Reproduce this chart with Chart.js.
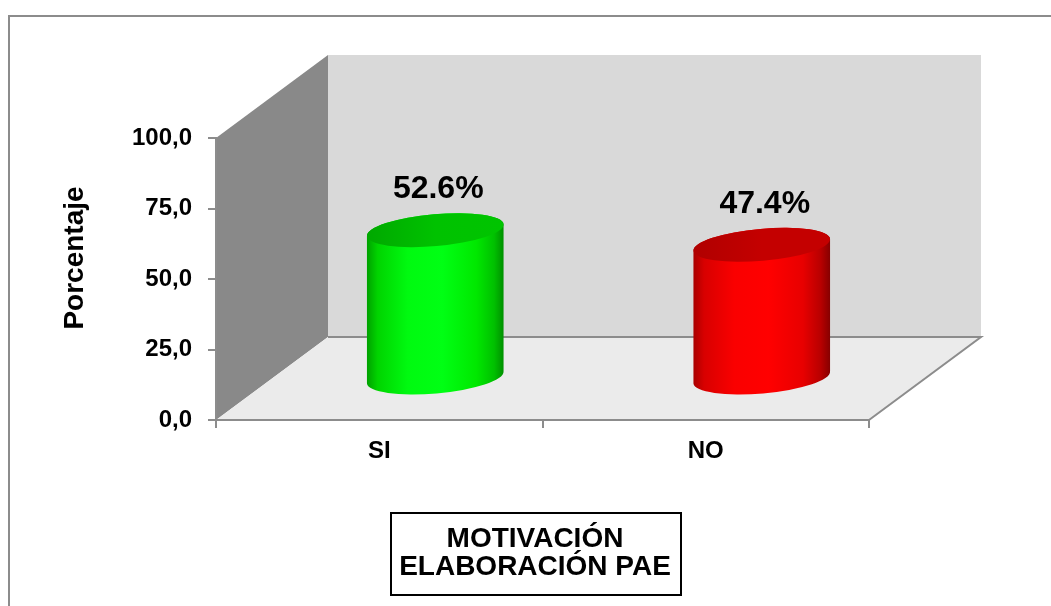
<!DOCTYPE html>
<html><head><meta charset="utf-8">
<script src="https://cdn.jsdelivr.net/npm/chart.js@4/dist/chart.umd.min.js"></script>
<style>html,body{margin:0;padding:0;background:#fff}canvas{display:block}</style>
</head><body>
<canvas id="c" width="1051" height="606"></canvas>
<script>
// ---- data ----
const categories = ['SI', 'NO'];
const percentages = [52.6, 47.4];
const yTickValues = [0, 25, 50, 75, 100];
const yTickLabels = ['0,0', '25,0', '50,0', '75,0', '100,0'];
const yAxisTitle = 'Porcentaje';
const chartTitleLines = ['MOTIVACIÓN', 'ELABORACIÓN PAE'];

// ---- styles ----
const FONT = '"Liberation Sans", Arial, sans-serif';
const GRAY = '#8c8c8c';
const DEPTH_X = 112, DEPTH_Y = 83;
const barStyles = [
  { body: [[0,'#00a000'],[0.08,'#00d400'],[0.3,'#00fa10'],[0.55,'#00ff14'],[0.8,'#00e800'],[0.93,'#00c000'],[1,'#008f00']],
    cap: [[0,'#00a800'],[0.5,'#00c200'],[1,'#00c400']] },
  { body: [[0,'#a80000'],[0.08,'#d80000'],[0.3,'#fa0000'],[0.55,'#ff0000'],[0.8,'#e80000'],[0.93,'#b80000'],[1,'#850000']],
    cap: [[0,'#b00000'],[0.5,'#c40000'],[1,'#c40000']] }
];

const scenePlugin = {
  id: 'scene',
  beforeDraw(chart) {
    const { ctx, chartArea: a } = chart;
    ctx.save();
    ctx.strokeStyle = GRAY; ctx.lineWidth = 2;
    ctx.beginPath(); ctx.moveTo(9, 606); ctx.lineTo(9, 16); ctx.lineTo(1051, 16); ctx.stroke();
    ctx.fillStyle = '#d9d9d9';
    ctx.fillRect(a.left + DEPTH_X, a.top - DEPTH_Y, a.right - a.left, a.bottom - a.top);
    ctx.fillStyle = '#898989';
    ctx.beginPath();
    ctx.moveTo(a.left, a.top); ctx.lineTo(a.left + DEPTH_X, a.top - DEPTH_Y);
    ctx.lineTo(a.left + DEPTH_X, a.bottom - DEPTH_Y); ctx.lineTo(a.left, a.bottom);
    ctx.closePath(); ctx.fill();
    ctx.fillStyle = '#ebebeb';
    ctx.beginPath();
    ctx.moveTo(a.left, a.bottom); ctx.lineTo(a.left + DEPTH_X, a.bottom - DEPTH_Y);
    ctx.lineTo(a.right + DEPTH_X, a.bottom - DEPTH_Y); ctx.lineTo(a.right, a.bottom);
    ctx.closePath(); ctx.fill();
    ctx.strokeStyle = GRAY; ctx.lineWidth = 2;
    ctx.beginPath();
    ctx.moveTo(a.left + DEPTH_X, a.bottom - DEPTH_Y); ctx.lineTo(a.right + DEPTH_X, a.bottom - DEPTH_Y);
    ctx.lineTo(a.right, a.bottom);
    ctx.stroke();
    ctx.restore();
  },
  afterDatasetsDraw(chart) {
    const { ctx } = chart;
    const meta = chart.getDatasetMeta(0);
    ctx.save();
    meta.data.forEach((bar, i) => {
      const p = bar.getProps(['x', 'y', 'base', 'width'], true);
      const cx = p.x + DEPTH_X / 2;
      const topY = p.y - DEPTH_Y / 2;
      const botY = p.base - DEPTH_Y / 2;
      const rx = p.width / 2, ry = 16, rot = -5 * Math.PI / 180;
      const st = barStyles[i % barStyles.length];
      const g = ctx.createLinearGradient(cx - rx, 0, cx + rx, 0);
      st.body.forEach(([o, c]) => g.addColorStop(o, c));
      ctx.beginPath();
      ctx.ellipse(cx, botY, rx, ry, rot, Math.PI, 0, true);
      ctx.ellipse(cx, topY, rx, ry, rot, 0, Math.PI, true);
      ctx.closePath();
      ctx.fillStyle = g; ctx.fill();
      const gc = ctx.createLinearGradient(cx - rx, 0, cx + rx, 0);
      st.cap.forEach(([o, c]) => gc.addColorStop(o, c));
      ctx.beginPath();
      ctx.ellipse(cx, topY, rx, ry, rot, 0, Math.PI * 2);
      ctx.fillStyle = gc; ctx.fill();
      ctx.fillStyle = '#000';
      ctx.font = 'bold 32px ' + FONT;
      ctx.textAlign = 'center'; ctx.textBaseline = 'middle';
      const v = chart.data.datasets[0].data[i];
      ctx.fillText(v.toFixed(1) + '%', cx + 3, topY - 41);
    });
    ctx.restore();
  },
  afterDraw(chart) {
    const { ctx } = chart;
    ctx.save();
    ctx.fillStyle = '#000';
    ctx.font = 'bold 28px ' + FONT;
    ctx.textAlign = 'center'; ctx.textBaseline = 'middle';
    ctx.translate(75, 258); ctx.rotate(-Math.PI / 2);
    ctx.fillText(yAxisTitle, 0, 0);
    ctx.setTransform(1, 0, 0, 1, 0, 0);
    ctx.strokeStyle = '#000'; ctx.lineWidth = 2;
    ctx.strokeRect(391, 513, 290, 82);
    ctx.font = 'bold 28px ' + FONT;
    ctx.textBaseline = 'alphabetic';
    ctx.fillText(chartTitleLines[0], 535, 547);
    ctx.fillText(chartTitleLines[1], 535, 575);
    ctx.restore();
  }
};

new Chart(document.getElementById('c'), {
  type: 'bar',
  data: {
    labels: categories,
    datasets: [{
      data: percentages,
      backgroundColor: 'rgba(0,0,0,0)',
      borderWidth: 0,
      barPercentage: 0.42,
      categoryPercentage: 1
    }]
  },
  options: {
    responsive: false,
    animation: false,
    devicePixelRatio: 1,
    layout: { padding: { top: 138, left: 60, right: 182, bottom: 126 } },
    plugins: { legend: { display: false }, tooltip: { enabled: false }, title: { display: false } },
    scales: {
      x: {
        type: 'category',
        offset: true,
        grid: { display: true, offset: true, drawOnChartArea: false, drawTicks: true, tickLength: 8, color: GRAY, lineWidth: 2 },
        border: { display: true, color: GRAY, width: 2 },
        ticks: { color: '#000', font: { family: FONT, size: 24, weight: 'bold' }, padding: 9, maxRotation: 0 },
        afterFit(s) { s.height = 60; }
      },
      y: {
        min: 0, max: 100,
        afterBuildTicks(s) { s.ticks = yTickValues.map(v => ({ value: v })); },
        grid: { display: true, drawOnChartArea: false, drawTicks: true, tickLength: 8, color: GRAY, lineWidth: 2 },
        border: { display: true, color: GRAY, width: 2 },
        ticks: {
          color: '#000', font: { family: FONT, size: 24, weight: 'bold' }, padding: 16,
          callback: (v) => yTickLabels[yTickValues.indexOf(v)]
        },
        afterFit(s) { s.width = 156; }
      }
    }
  },
  plugins: [scenePlugin]
});
</script>
</body></html>
